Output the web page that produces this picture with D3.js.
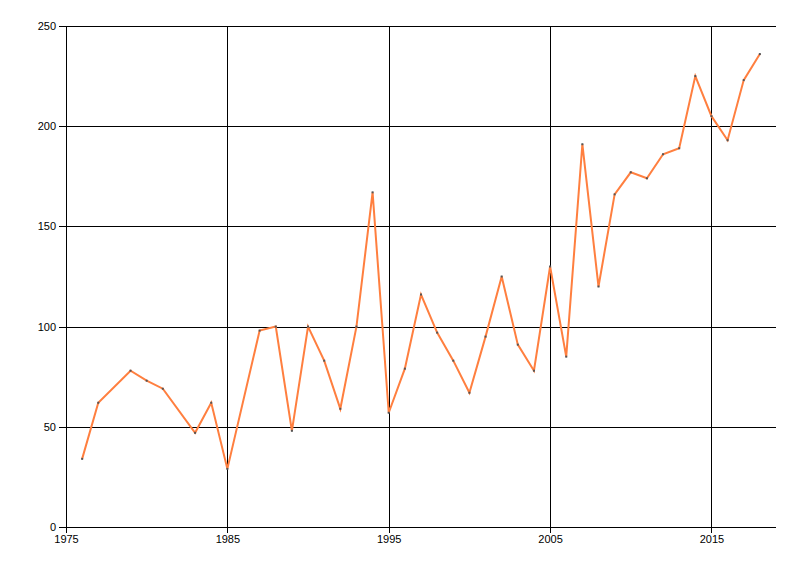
<!DOCTYPE html>
<html>
<head>
<meta charset="utf-8">
<script src="https://cdn.jsdelivr.net/npm/d3@7"></script>
<style>
  body { margin: 0; background: #fff; }
  text { font-family: "Liberation Sans", Arial, sans-serif; font-size: 11px; fill: #000; }
  .tick line, .axisline { shape-rendering: crispEdges; }
</style>
</head>
<body>
<script>
var width = 800;
var height = 576;
var margin = {top: 26, left: 66, right: 24, bottom: 49};

var years = [1976, 1977, 1979, 1980, 1981, 1983, 1984, 1985, 1987, 1988, 1989,
  1990, 1991, 1992, 1993, 1994, 1995, 1996, 1997, 1998, 1999, 2000, 2001,
  2002, 2003, 2004, 2005, 2006, 2007, 2008, 2009, 2010, 2011, 2012, 2013,
  2014, 2015, 2016, 2017, 2018];
var values = [34, 62, 78, 73, 69, 47, 62, 29, 98, 100, 48,
  100, 83, 59, 100, 167, 57, 79, 116, 97, 83, 67, 95,
  125, 91, 78, 130, 85, 191, 120, 166, 177, 174, 186, 189,
  225, 205, 193, 223, 236];
var xTicks = [1975, 1985, 1995, 2005, 2015];
var yTicks = [0, 50, 100, 150, 200, 250];

var data = years.map(function(y, i) { return {x: y, y: values[i]}; });

var svg = d3.select("body")
  .append("svg")
  .attr("width", width)
  .attr("height", height);

var xScale = d3.scaleLinear()
  .domain([1975, 2019])
  .range([margin.left, width - margin.right]);

var yScale = d3.scaleLinear()
  .domain([0, 250])
  .range([height - margin.bottom, margin.top]);

// horizontal grid
svg.append("g")
  .attr("transform", `translate(${margin.left},0)`)
  .call(d3.axisLeft(yScale).tickValues(yTicks).tickSize(7).tickPadding(3))
  .call(function(g) {
    g.select(".domain").remove();
    g.selectAll(".tick line").clone()
      .attr("x2", width - margin.right - margin.left)
      .attr("stroke", "#000");
  });

// vertical grid
svg.append("g")
  .attr("transform", `translate(0,${height - margin.bottom})`)
  .call(d3.axisBottom(xScale).tickValues(xTicks).tickFormat(d3.format("d")).tickSize(6).tickPadding(2))
  .call(function(g) {
    g.select(".domain").remove();
    g.selectAll(".tick line").clone()
      .attr("y2", -(height - margin.bottom - margin.top))
      .attr("stroke", "#000");
  });

svg.selectAll(".tick text").style("font-size", "11px");

// axis lines
svg.append("line")
  .attr("class", "axisline")
  .attr("x1", margin.left).attr("x2", margin.left)
  .attr("y1", margin.top).attr("y2", height - margin.bottom)
  .attr("stroke", "#000");
svg.append("line")
  .attr("class", "axisline")
  .attr("x1", margin.left).attr("x2", width - margin.right)
  .attr("y1", height - margin.bottom).attr("y2", height - margin.bottom)
  .attr("stroke", "#000");

var line = d3.line()
  .x(function(d) { return xScale(d.x); })
  .y(function(d) { return yScale(d.y); });

svg.append("path")
  .datum(data)
  .attr("d", line)
  .attr("fill", "none")
  .attr("stroke", "#FF7F3F")
  .attr("stroke-width", 2);

svg.selectAll("rect.pt")
  .data(data)
  .enter()
  .append("rect")
    .attr("class", "pt")
    .attr("x", function(d) { return xScale(d.x) - 1; })
    .attr("y", function(d) { return yScale(d.y) - 1; })
    .attr("width", 2)
    .attr("height", 2)
    .attr("fill", "#555");
</script>
</body>
</html>
